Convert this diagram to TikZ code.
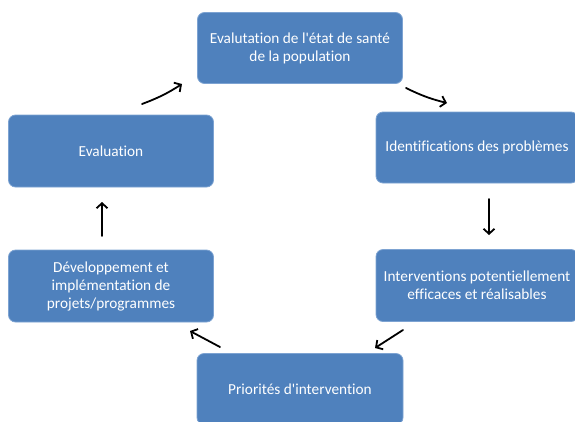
\documentclass[tikz,border=0pt]{standalone}
\usepackage{fontspec}
\setmainfont{Carlito}[Ligatures={TeXOff,NoCommon}]
\usetikzlibrary{arrows.meta}
\definecolor{boxblue}{RGB}{79,129,189}
\definecolor{boxedge}{RGB}{125,163,210}
\begin{document}
\begin{tikzpicture}[x=1pt,y=-1pt,
  stage/.style={draw=boxedge, line width=0.8pt, fill=boxblue, rounded corners=7pt,
    text=white, align=center, font=\fontsize{15.3}{18}\selectfont, inner sep=0pt},
  flow/.style={line width=1.8pt, line cap=round,
    -{Straight Barb[length=5pt,width=11pt,line width=1.8pt]}}]
\useasboundingbox (0,0) rectangle (575,421);
\clip (0,0) rectangle (575,421);
\node[stage, minimum width=205pt, minimum height=71pt] (eval0) at (300,48)
  {Evalutation de l'état de santé\\de la population};
\node[stage, minimum width=202pt, minimum height=71pt] (ident) at (477,147.5)
  {Identifications des problèmes};
\node[stage, minimum width=202pt, minimum height=72pt] (interv) at (477,285.5)
  {Interventions potentiellement\\efficaces et réalisables};
\node[stage, minimum width=206pt, minimum height=71pt] (prio) at (300,389)
  {Priorités d'intervention};
\node[stage, minimum width=205pt, minimum height=72pt] (dev) at (111,286)
  {Développement et\\implémentation de\\projets/programmes};
\node[stage, minimum width=205pt, minimum height=72pt] (evalf) at (111,151)
  {Evaluation};
\coordinate (a1s) at (142,104); \coordinate (a1e) at (182,84);
\coordinate (a2s) at (406,88);  \coordinate (a2e) at (447,103);
\coordinate (a3s) at (489,199); \coordinate (a3e) at (489,235);
\coordinate (a4s) at (403,330); \coordinate (a4e) at (375,348);
\coordinate (a5s) at (220,347); \coordinate (a5e) at (190,331);
\coordinate (a6s) at (102,236); \coordinate (a6e) at (102,202);
\draw[flow] (a1s) to[bend right=6] (a1e);
\draw[flow] (a2s) to[bend right=6] (a2e);
\draw[flow] (a3s) -- (a3e);
\draw[flow] (a4s) -- (a4e);
\draw[flow] (a5s) -- (a5e);
\draw[flow] (a6s) -- (a6e);
\end{tikzpicture}
\end{document}
